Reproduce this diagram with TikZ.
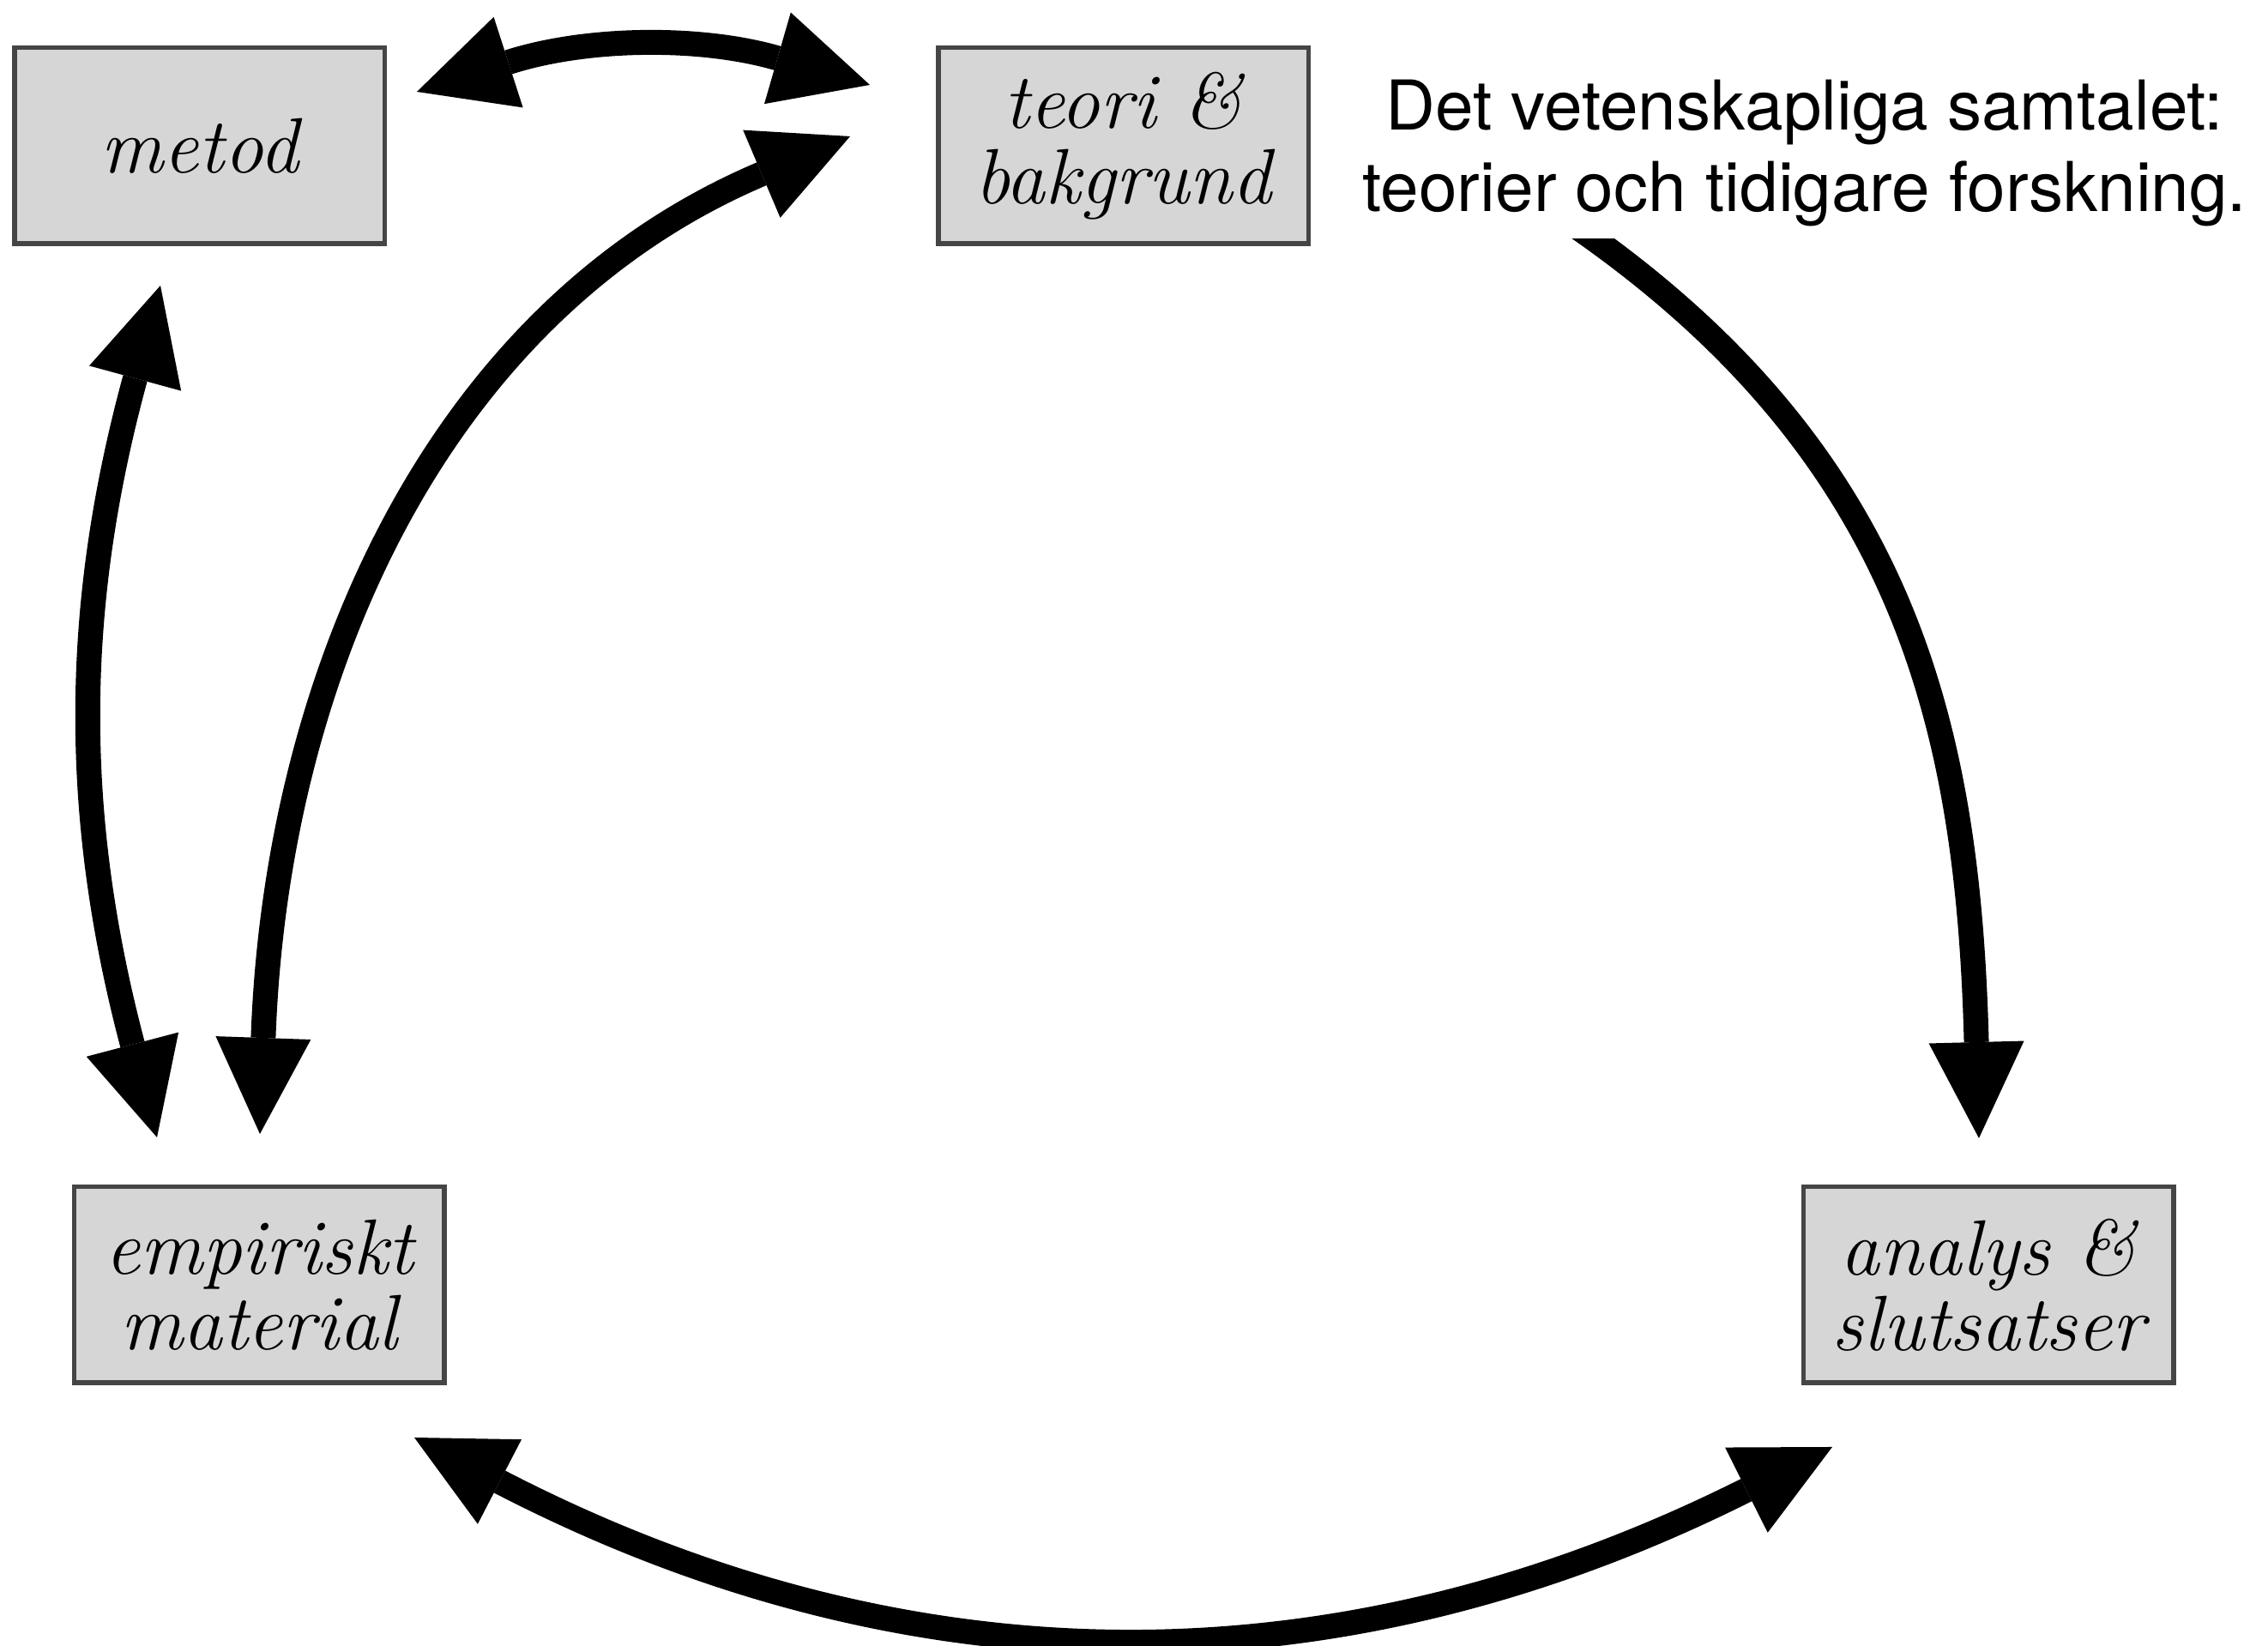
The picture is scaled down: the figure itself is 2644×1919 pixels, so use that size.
\documentclass[tikz,border=0pt]{standalone}
\usepackage{fontspec}
\newfontfamily\notefont{TeX Gyre Heros}
\usepackage{tikz}
\usetikzlibrary{arrows.meta}
\usetikzlibrary{backgrounds}
\definecolor{boxfill}{HTML}{D6D6D6}
\definecolor{boxline}{HTML}{454545}

\begin{document}
\begin{tikzpicture}[x=0.1mm, y=0.1mm,
  ruta/.style={draw=boxline, fill=boxfill, line width=0.55mm, minimum width=43.15mm, minimum height=22.85mm, align=center, inner sep=0pt, font=\fontsize{26}{25}\selectfont\itshape},
  pil/.style={line width=2.9mm, >={Triangle[length=11.2mm, width=11.1mm, line width=0pt]}}]
\useasboundingbox (0,0) rectangle (2644,1919);

\node [ruta] (metod) at (232.5,1749) {metod};
\node [ruta] (teori) at (1309.5,1749) {teori \&\\bakgrund};
\node [ruta] (empiri) at (302,421) {empiriskt\\material};
\node [ruta] (analys) at (2318,421) {analys \&\\slutsatser};
\node [fill=white, align=center, inner xsep=0pt, inner ysep=1.4mm, font=\notefont\fontsize{22.8}{27}\selectfont] (note) at (2104,1740) {Det vetenskapliga samtalet:\\teorier och tidigare forskning.};

\coordinate (m1) at (486,1812);
\coordinate (t1) at (1014,1820);
\coordinate (m2) at (187,1586);
\coordinate (e1) at (183,593);
\coordinate (e2) at (303,597);
\coordinate (t2) at (991,1760);
\coordinate (n1) at (1820,1667);
\coordinate (a1) at (2307,592);
\coordinate (e3) at (483,243);
\coordinate (a2) at (2136,232);

\draw [pil, <->] (m1) to[bend left=17] (t1);
\draw [pil, <->] (m2) to[bend right=15] (e1);
\draw [pil, <->] (e2) to[out=88, in=203] (t2);
\draw [pil, <->] (e3) to[bend right=27] (a2);
\begin{scope}[on background layer]
\draw [pil, ->] (n1) to[out=-34, in=91.5, looseness=1.05] (a1);
\end{scope}
\end{tikzpicture}
\end{document}
